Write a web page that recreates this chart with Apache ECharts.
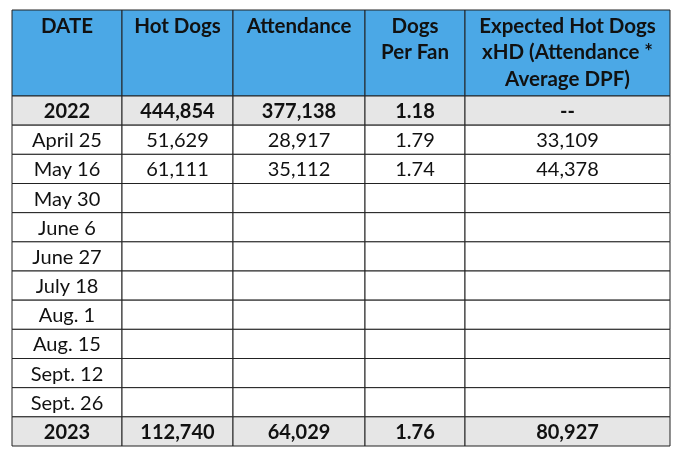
<!DOCTYPE html>
<html><head><meta charset="utf-8">
<script src="https://cdn.jsdelivr.net/npm/echarts@6/dist/echarts.min.js"></script>
<style>html,body{margin:0;padding:0;background:#fff}#c{width:680px;height:459px}</style>
</head><body><div id="c"></div>
<script>
// ---- data ----
const headers = ['DATE', 'Hot Dogs', 'Attendance', 'Dogs\nPer Fan', 'Expected Hot Dogs\nxHD (Attendance *\nAverage DPF)'];
const dates = ['April 25', 'May 16', 'May 30', 'June 6', 'June 27', 'July 18', 'Aug. 1', 'Aug. 15', 'Sept. 12', 'Sept. 26'];
const hotDogs = [51629, 61111, null, null, null, null, null, null, null, null];
const attendance = [28917, 35112, null, null, null, null, null, null, null, null];
const dogsPerFan = [1.79, 1.74, null, null, null, null, null, null, null, null];
const expectedHD = [33109, 44378, null, null, null, null, null, null, null, null];
const total2022 = ['2022', 444854, 377138, 1.18, '--'];
const total2023 = ['2023', 112740, 64029, 1.76, 80927];

// ---- layout (not data) ----
const colEdges = [0, 110, 221, 353, 453, 658];
const headerH = 86, totalH = 436;
const nRows = dates.length + 2;
const rowH = (totalH - headerH) / nRows;

function fmt(v, dec) {
  if (v === null || v === undefined) return '';
  if (typeof v === 'string') return v;
  return dec ? v.toFixed(2) : v.toLocaleString('en-US');
}

const cells = [];
headers.forEach((h, c) => cells.push([c, -1, h, 'header']));
total2022.forEach((v, c) => cells.push([c, 0, fmt(v, c === 3), 'total']));
dates.forEach((d, i) => {
  const row = [d, hotDogs[i], attendance[i], dogsPerFan[i], expectedHD[i]];
  row.forEach((v, c) => cells.push([c, i + 1, fmt(v, c === 3), 'body']));
});
total2023.forEach((v, c) => cells.push([c, nRows - 1, fmt(v, c === 3), 'total']));

const fontFam = 'Lato, "Open Sans", sans-serif';

const chart = echarts.init(document.getElementById('c'), null, {renderer: 'canvas'});
chart.setOption({
  animation: false,
  grid: {left: 12, top: 10, width: 658, height: 436},
  xAxis: {type: 'value', min: 0, max: 658, show: false},
  yAxis: {type: 'value', min: 0, max: totalH, inverse: true, show: false},
  series: [{
    type: 'custom',
    coordinateSystem: 'cartesian2d',
    data: cells,
    renderItem: function (params, api) {
      const c = api.value(0), r = api.value(1);
      const item = cells[params.dataIndex];
      const kind = item[3];
      const text = item[2];
      const y0v = r < 0 ? 0 : headerH + r * rowH;
      const y1v = r < 0 ? headerH : headerH + (r + 1) * rowH;
      const p0 = api.coord([colEdges[c], y0v]);
      const p1 = api.coord([colEdges[c + 1], y1v]);
      const x = p0[0], y = p0[1], w = p1[0] - p0[0], h = p1[1] - p0[1];
      const fill = kind === 'header' ? '#4ba8e6' : (kind === 'total' ? '#e6e6e6' : '#ffffff');
      const bold = kind !== 'body';
      const size = kind === 'header' ? 20.5 : 20;
      const children = [{
        type: 'rect',
        shape: {x: x, y: y, width: w, height: h},
        style: {fill: fill, stroke: '#222', lineWidth: 1}
      }];
      if (text) {
        children.push({
          type: 'text',
          style: {
            text: text,
            x: x + w / 2,
            y: kind === 'header' ? y + 3 : y + h / 2 + 1,
            align: 'center',
            verticalAlign: kind === 'header' ? 'top' : 'middle',
            font: (bold ? 'bold ' : '') + size + 'px ' + fontFam,
            lineHeight: 26.5,
            fill: '#111'
          }
        });
      }
      return {type: 'group', children: children};
    }
  }]
});
</script>
</body></html>
